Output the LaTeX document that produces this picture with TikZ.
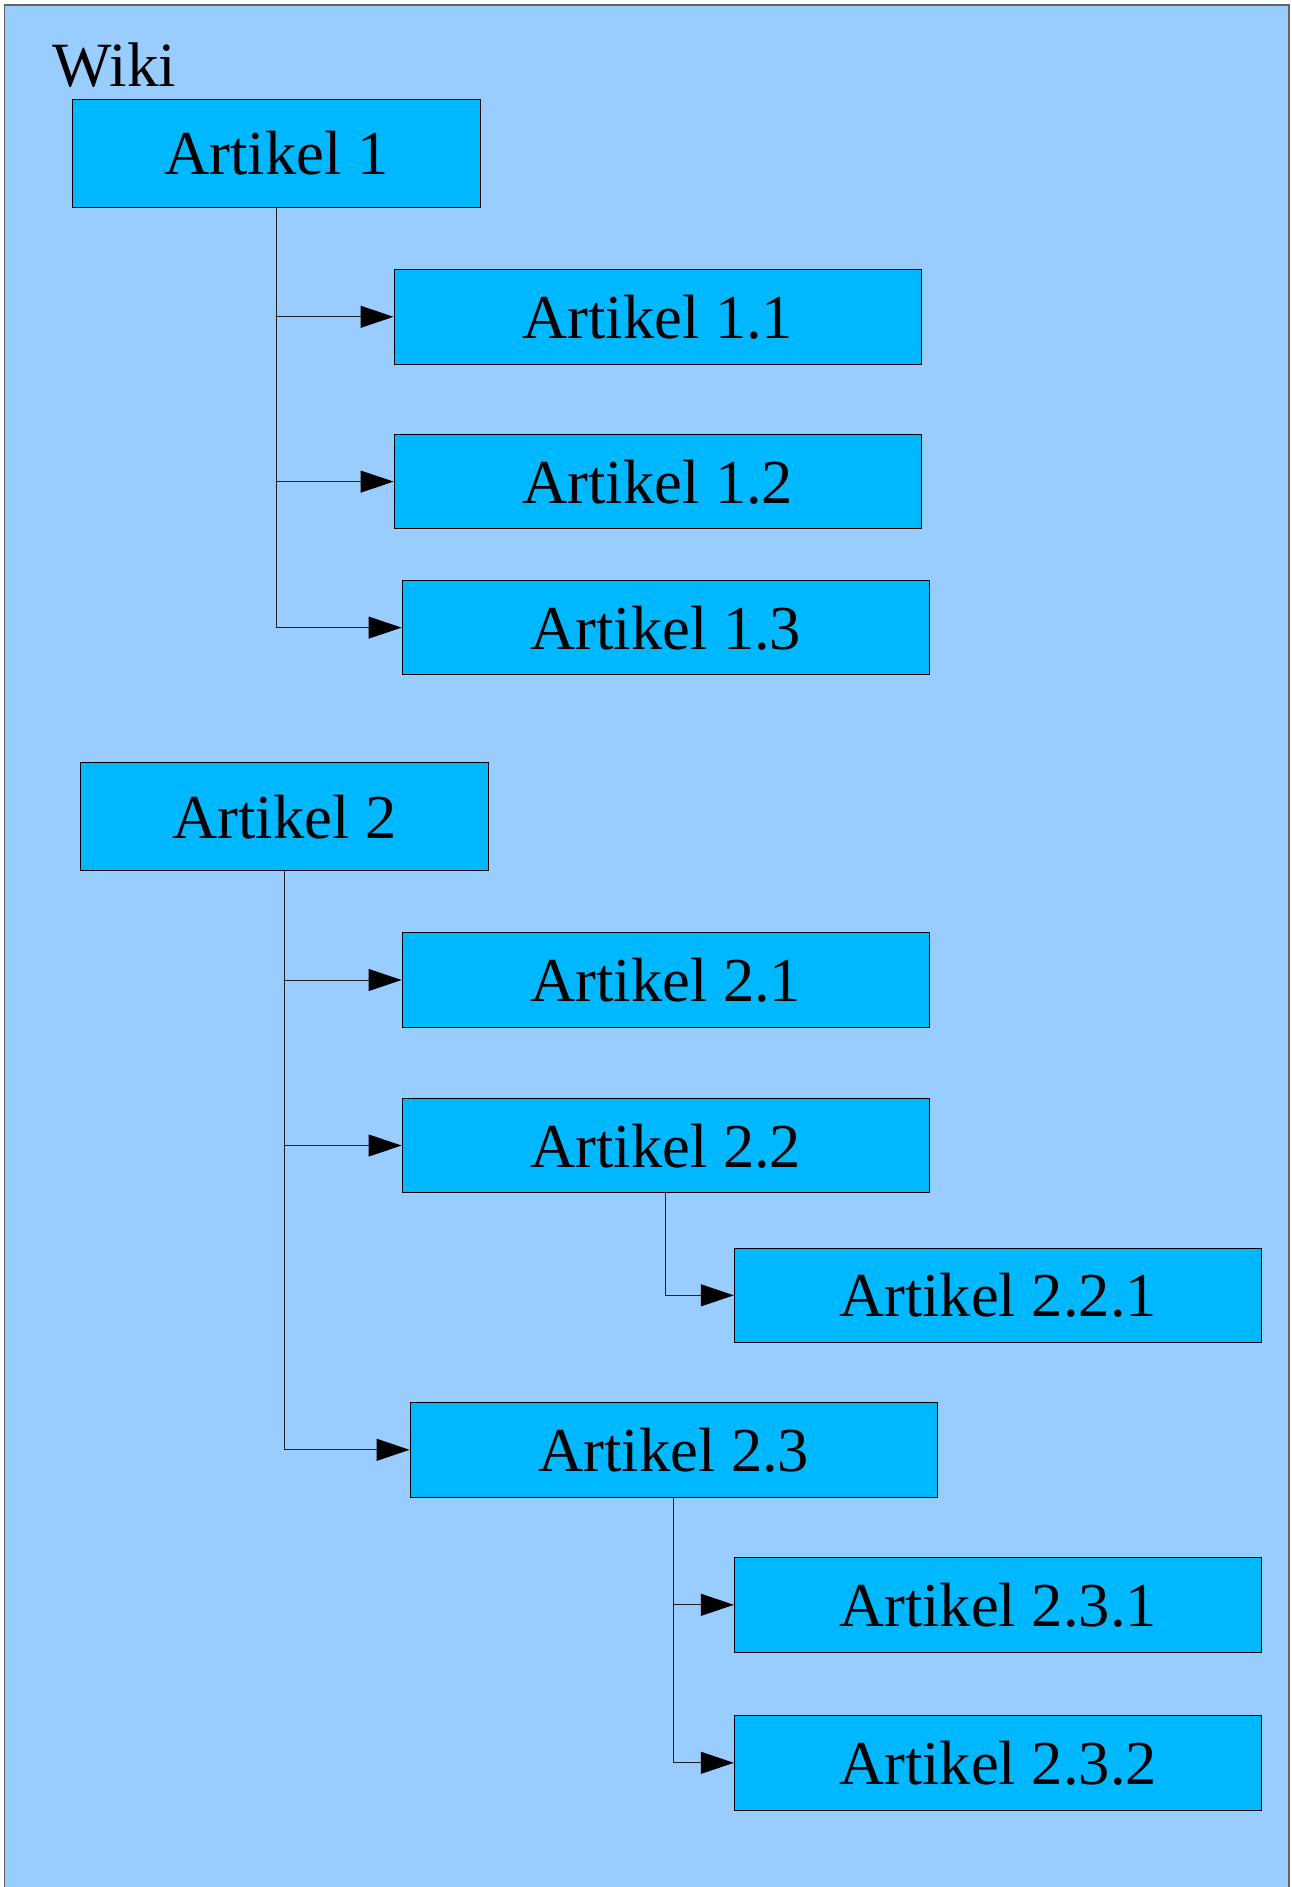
\documentclass[tikz,border=0pt]{standalone}
\usepackage{fontspec}
\setmainfont{Liberation Serif}
\usetikzlibrary{arrows.meta}
\definecolor{framefill}{RGB}{153,204,255}
\definecolor{boxfill}{RGB}{0,184,255}
\definecolor{framegray}{RGB}{100,100,100}
\definecolor{linecol}{RGB}{30,30,40}
\tikzset{
  bigbox/.style={draw=black, line width=1pt, fill=boxfill, inner sep=0pt,
    minimum width=408pt, minimum height=108pt, text depth=0pt,
    font=\fontsize{62.5}{70}\selectfont},
  smallbox/.style={bigbox, minimum width=527.5pt, minimum height=94.5pt},
  conn/.style={draw=linecol, line width=1pt, -{Triangle[length=33pt,width=22pt,color=black]}}
}
\begin{document}
\begin{tikzpicture}[x=1pt,y=-1pt]
\useasboundingbox (0,0) rectangle (1291,1887);
\fill[white] (0,0) rectangle (1291,1887);
\filldraw[fill=framefill, draw=framegray, line width=1.5pt] (4.7,5) rectangle (1289,1900);
\node[anchor=base west, inner sep=0pt, font=\fontsize{63}{70}\selectfont] (wiki) at (52.5,86) {Wiki};
\node[bigbox] (a1) at (276.5,153.1) {Artikel 1};
\node[smallbox] (a11) at (657.8,316.8) {Artikel 1.1};
\node[smallbox] (a12) at (657.8,481.6) {Artikel 1.2};
\node[smallbox] (a13) at (665.8,627.6) {Artikel 1.3};
\node[bigbox] (a2) at (284.6,816.8) {Artikel 2};
\node[smallbox] (a21) at (665.8,980) {Artikel 2.1};
\node[smallbox] (a22) at (665.8,1145.5) {Artikel 2.2};
\node[smallbox] (a221) at (998.1,1295.3) {Artikel 2.2.1};
\node[smallbox] (a23) at (673.8,1449.8) {Artikel 2.3};
\node[smallbox] (a231) at (998.1,1604.8) {Artikel 2.3.1};
\node[smallbox] (a232) at (998.1,1762.8) {Artikel 2.3.2};
\draw[conn] (a1.south) |- (a11.west);
\draw[conn] (a1.south) |- (a12.west);
\draw[conn] (a1.south) |- (a13.west);
\draw[conn] (a2.south) |- (a21.west);
\draw[conn] (a2.south) |- (a22.west);
\draw[conn] (a2.south) |- (a23.west);
\draw[conn] (a22.south) |- (a221.west);
\draw[conn] (a23.south) |- (a231.west);
\draw[conn] (a23.south) |- (a232.west);
\end{tikzpicture}
\end{document}
